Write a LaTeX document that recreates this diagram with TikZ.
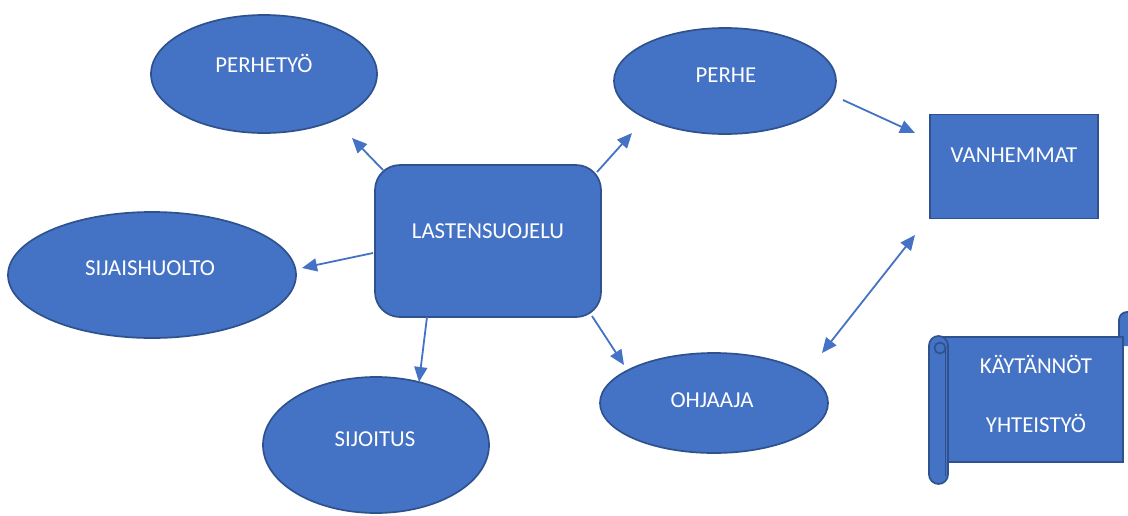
\documentclass[tikz,border=0pt]{standalone}
\usepackage{fontspec}
\setmainfont{Carlito}
\usetikzlibrary{arrows.meta,shapes.geometric}
\definecolor{fillb}{HTML}{4472C4}
\definecolor{edgeb}{HTML}{2F528F}
\definecolor{arrb}{HTML}{4472C4}
\begin{document}
\begin{tikzpicture}[x=1pt,y=-1pt,
  shp/.style={fill=fillb,draw=edgeb,line width=1.7pt,inner sep=0pt},
  ell/.style={shp,ellipse},
  lbl/.style={text=white,font=\fontsize{22.8}{27}\selectfont,text height=0.63em,text depth=0pt,inner sep=0pt},
  arr/.style={arrb,line width=1.8pt,-{Triangle[length=15pt,width=13pt]}},
  darr/.style={arrb,line width=1.8pt,{Triangle[length=15pt,width=13pt]}-{Triangle[length=15pt,width=13pt]}}
]
\useasboundingbox[fill=white] (0,0) rectangle (1128,515);

% shapes
\node[ell,minimum width=226pt,minimum height=118pt] (ph) at (264,74) {};
\node[ell,minimum width=222pt,minimum height=106pt] (pe) at (725,81) {};
\node[shp,rectangle,minimum width=168pt,minimum height=104pt] (va) at (1014,166.5) {};
\node[shp,rectangle,rounded corners=25pt,minimum width=226pt,minimum height=152pt] (ls) at (488,241) {};
\node[ell,minimum width=288pt,minimum height=126pt] (sh) at (152,275) {};
\node[ell,minimum width=226pt,minimum height=136pt] (si) at (376,445) {};
\node[ell,minimum width=228pt,minimum height=100pt] (oh) at (714,403) {};

% scroll
\begin{scope}
  \clip (0,0) rectangle (1128,515);
  \filldraw[fill=fillb,draw=edgeb,line width=1.7pt,rounded corners=8pt] (1119,346) -- (1119,312) -- (1138,312) -- (1138,346);
\end{scope}
\filldraw[fill=fillb,draw=edgeb,line width=1.7pt] (940,337) rectangle (1123,462);
\filldraw[fill=fillb,draw=edgeb,line width=1.7pt,rounded corners=9.5pt] (929,336) rectangle (948,484);
\draw[edgeb,line width=1.7pt] (945.5,348) -- (945.5,476);
\filldraw[fill=fillb,draw=edgeb,line width=1.7pt] (940,348) circle[radius=5.5pt];

% labels
\node[lbl] (pht) at ([shift={(0,-5)}]ph.center) {PERHETYÖ};
\node[lbl] (pet) at ([shift={(1,-2)}]pe.center) {PERHE};
\node[lbl] (vat) at ([shift={(0,-7)}]va.center) {VANHEMMAT};
\node[lbl] (lst) at ([shift={(0,-6)}]ls.center) {LASTENSUOJELU};
\node[lbl] (sht) at ([shift={(-2,-3)}]sh.center) {SIJAISHUOLTO};
\node[lbl] (sit) at ([shift={(-1,-2)}]si.center) {SIJOITUS};
\node[lbl] (oht) at ([shift={(-2,1)}]oh.center) {OHJAAJA};
\node[lbl] (sc1) at (1036,370) {KÄYTÄNNÖT};
\node[lbl] (sc2) at (1036,429) {YHTEISTYÖ};

% connectors
\draw[arr] ([shift={(-105,-71)}]ls.center) -- ([shift={(88,64)}]ph.center);
\draw[arr] ([shift={(109,-69)}]ls.center) -- ([shift={(-93,52)}]pe.center);
\draw[arr] ([shift={(118,19)}]pe.center) -- ([shift={(-99,-33.5)}]va.center);
\draw[arr] ([shift={(-115,12)}]ls.center) -- ([shift={(150,-7)}]sh.center);
\draw[arr] ([shift={(-61,76)}]ls.center) -- ([shift={(43,-63)}]si.center);
\draw[arr] ([shift={(104,75)}]ls.center) -- ([shift={(-90,-38)}]oh.center);
\draw[darr] ([shift={(108,-50)}]oh.center) -- ([shift={(-99,68.5)}]va.center);
\end{tikzpicture}
\end{document}
